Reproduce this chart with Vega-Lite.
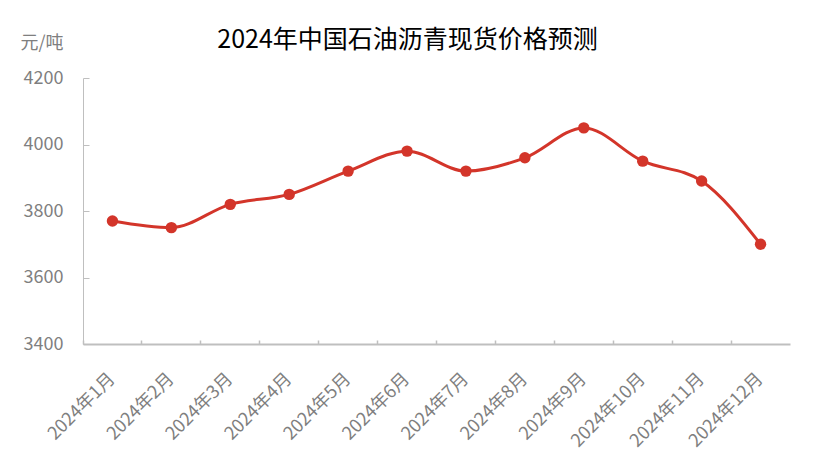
{
  "$schema": "https://vega.github.io/schema/vega-lite/v6.json",
  "width": 707,
  "height": 266,
  "autosize": {"type": "none"},
  "padding": {"left": 83, "top": 78, "right": 25, "bottom": 117},
  "background": "white",
  "config": {
    "font": "Noto Sans CJK SC",
    "view": {"stroke": null}
  },
  "title": {
    "text": "2024年中国石油沥青现货价格预测",
    "fontSize": 25,
    "fontWeight": "normal",
    "color": "#000000",
    "anchor": "middle",
    "dx": -29,
    "offset": -19
  },
  "data": {
    "values": [
      {"month": "2024年1月", "price": 3770},
      {"month": "2024年2月", "price": 3750},
      {"month": "2024年3月", "price": 3820},
      {"month": "2024年4月", "price": 3850},
      {"month": "2024年5月", "price": 3920},
      {"month": "2024年6月", "price": 3980},
      {"month": "2024年7月", "price": 3920},
      {"month": "2024年8月", "price": 3960},
      {"month": "2024年9月", "price": 4050},
      {"month": "2024年10月", "price": 3950},
      {"month": "2024年11月", "price": 3890},
      {"month": "2024年12月", "price": 3700}
    ]
  },
  "encoding": {
    "x": {
      "field": "month",
      "type": "ordinal",
      "sort": null,
      "scale": {"type": "band", "paddingInner": 0, "paddingOuter": 0},
      "axis": {
        "title": null,
        "labelAngle": -45,
        "labelAlign": "right",
        "labelBaseline": "middle",
        "labelFontSize": 18,
        "labelColor": "#7f7f7f",
        "labelPadding": 36,
        "tickSize": -4,
        "tickColor": "#bfbfbf",
        "tickWidth": 1.5,
        "bandPosition": 0,
        "domainColor": "#bfbfbf",
        "domainWidth": 2,
        "grid": false
      }
    },
    "y": {
      "field": "price",
      "type": "quantitative",
      "scale": {"domain": [3400, 4200], "nice": false, "zero": false},
      "axis": {
        "title": "元/吨",
        "titleAngle": 0,
        "titleAlign": "left",
        "titleBaseline": "middle",
        "titleX": -63,
        "titleY": -35,
        "titleFontSize": 18,
        "titleFontWeight": "normal",
        "titleColor": "#7f7f7f",
        "values": [3400, 3600, 3800, 4000, 4200],
        "format": "d",
        "labelFontSize": 18,
        "labelColor": "#7f7f7f",
        "labelPadding": 26,
        "tickSize": -6,
        "tickColor": "#bfbfbf",
        "domainColor": "#bfbfbf",
        "domainWidth": 1,
        "grid": false
      }
    }
  },
  "layer": [
    {
      "mark": {"type": "line", "color": "#d3352a", "strokeWidth": 3, "interpolate": "monotone"}
    },
    {
      "mark": {"type": "circle", "color": "#d3352a", "opacity": 1, "size": 130}
    }
  ]
}
